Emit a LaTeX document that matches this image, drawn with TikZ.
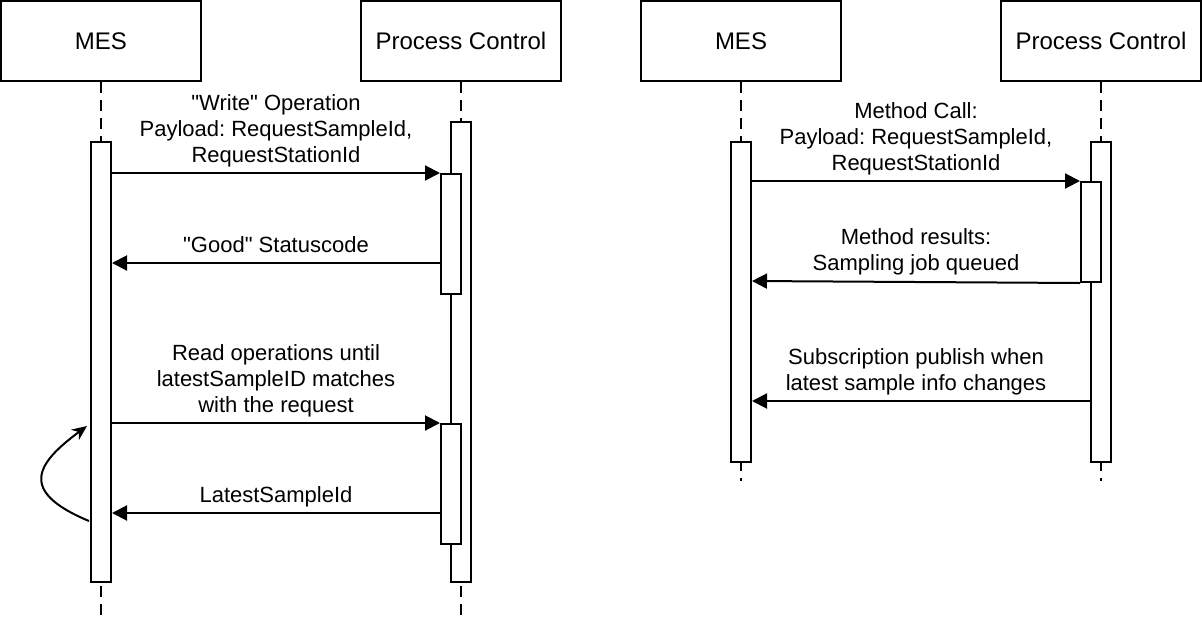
\documentclass[tikz,border=0pt]{standalone}
\usepackage{fontspec}
\setmainfont{Liberation Sans}[Ligatures=TeXOff]
\usetikzlibrary{arrows.meta,positioning}
\frenchspacing
\begin{document}
\begin{tikzpicture}[x=1pt,y=-1pt,line width=2pt,
  head/.style={draw,minimum width=200pt,minimum height=80pt,inner sep=0pt,font=\fontsize{24}{28}\selectfont},
  bar/.style={draw,fill=white,minimum width=20pt,inner sep=0pt,anchor=north},
  life/.style={dash pattern=on 11pt off 7pt},
  msg/.style={-{Triangle[length=15pt,width=15pt]}},
  polling/.style={-{Stealth[length=15pt,width=13pt]}},
  lbl/.style={font=\fontsize{22}{26}\selectfont,align=center,inner sep=0pt,execute at end node=\strut}]
\useasboundingbox (-1,-1) rectangle (1201,621);
% left: write, then read until it matches
\node[head] (mes0) at (100,40) {MES};
\node[head] (pc0) at (460,40) {Process Control};
\coordinate (mes0end) at (100,614);
\coordinate (pc0end) at (460,614);
\draw[life] (mes0) -- (mes0end);
\draw[life] (pc0) -- (pc0end);
\node[bar, minimum height=440pt] (mes0bar) at (100,140) {};
\node[bar, minimum height=460pt] (pc0bar) at (460,120) {};
\node[bar, minimum height=120pt] (pc0act1) at (450,172) {};
\node[bar, minimum height=120pt] (pc0act2) at (450,422) {};
\coordinate (m1) at (275,172);
\coordinate (m2) at (275,262);
\coordinate (m3) at (275,422);
\coordinate (m4) at (275,512);
\draw[msg] (mes0bar.east |- m1) -- (pc0act1.north west);
\draw[msg] (pc0act1.west |- m2) -- (mes0bar.east |- m2);
\draw[msg] (mes0bar.east |- m3) -- (pc0act2.north west);
\draw[msg] (pc0act2.west |- m4) -- (mes0bar.east |- m4);
\node[lbl, above=2pt of m1] (l1) {"Write" Operation\\Payload: RequestSampleId,\\RequestStationId};
\node[lbl, above=2pt of m2] (l2) {"Good" Statuscode};
\node[lbl, above=2pt of m3] (l3) {Read operations until\\latestSampleID matches\\with the request};
\node[lbl, above=2pt of m4] (l4) {LatestSampleId};
\coordinate (loop0a) at (88,520);
\coordinate (loop0b) at (86,425);
\draw[polling] (loop0a) .. controls (16,490) and (36,462) .. (loop0b);
% right: method call, then subscription
\node[head] (mes1) at (740,40) {MES};
\node[head] (pc1) at (1100,40) {Process Control};
\coordinate (mes1end) at (740,480);
\coordinate (pc1end) at (1100,480);
\draw[life] (mes1) -- (mes1end);
\draw[life] (pc1) -- (pc1end);
\node[bar, minimum height=320pt] (mes1bar) at (740,140) {};
\node[bar, minimum height=320pt] (pc1bar) at (1100,140) {};
\node[bar, minimum height=100pt] (pc1act1) at (1090,180) {};
\coordinate (n1) at (915,180);
\coordinate (n2) at (915,280);
\coordinate (n3) at (915,400);
\draw[msg] (mes1bar.east |- n1) -- (pc1act1.north west);
\draw[msg] (pc1act1.south west) -- (mes1bar.east |- n2);
\draw[msg] (pc1bar.west |- n3) -- (mes1bar.east |- n3);
\node[lbl, above=2pt of n1] (k1) {Method Call:\\Payload: RequestSampleId,\\RequestStationId};
\node[lbl, above=2pt of n2] (k2) {Method results:\\Sampling job queued};
\node[lbl, above=2pt of n3] (k3) {Subscription publish when\\latest sample info changes};
\end{tikzpicture}
\end{document}
